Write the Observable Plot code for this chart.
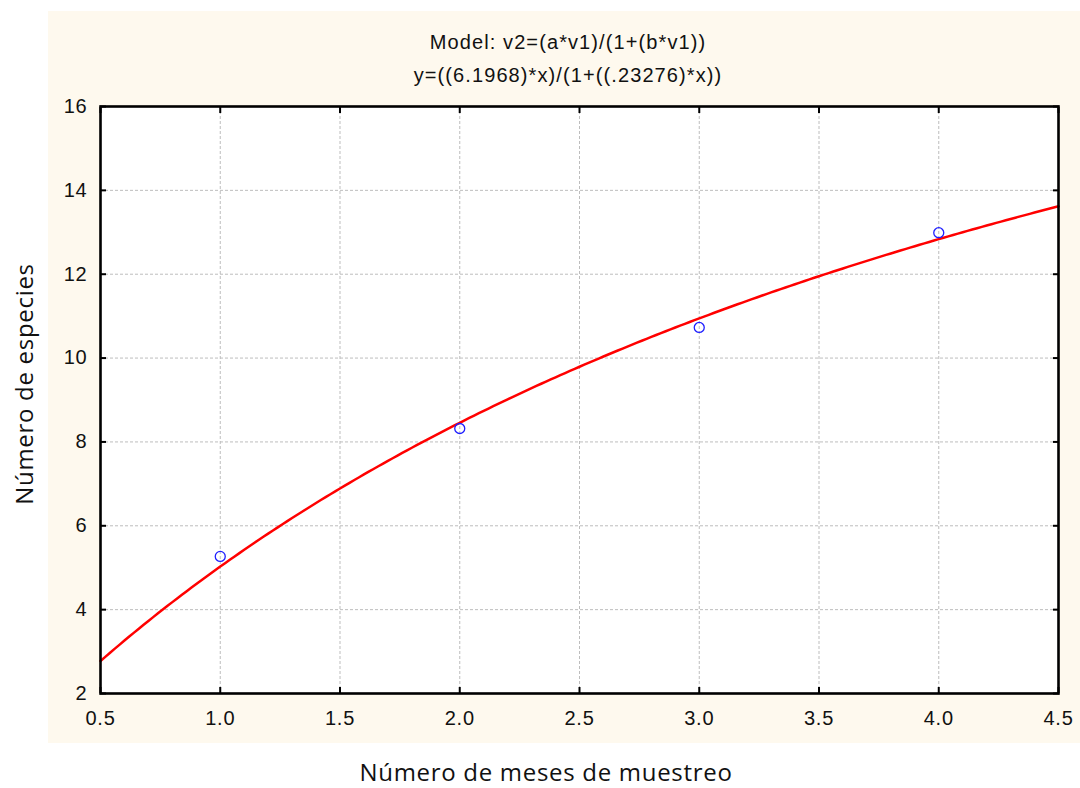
<!DOCTYPE html>
<html>
<head>
<meta charset="utf-8">
<script src="https://cdn.jsdelivr.net/npm/d3@7"></script>
<script src="https://cdn.jsdelivr.net/npm/@observablehq/plot@0.6"></script>
<style>
  body { margin: 0; background: #ffffff; }
  #wrap { position: relative; width: 1080px; height: 788px; overflow: hidden; font-family: "Liberation Sans", Arial, sans-serif; }
  #panel { position: absolute; left: 48px; top: 11px; width: 1032px; height: 732px; background: #fef9ee; }
  #chart { position: absolute; left: 0; top: 0; }
  .title { position: absolute; left: 568px; transform: translateX(-50%); white-space: nowrap;
           font-size: 20px; line-height: 20px; letter-spacing: 1.1px; color: #111; }
  .axlab { position: absolute; white-space: nowrap; font-family: "Open Sans", sans-serif; font-size: 24px; line-height: 24px; letter-spacing: 0.7px; color: #111; }
</style>
</head>
<body>
<div id="wrap">
  <div id="panel"></div>
  <div id="chart"></div>
  <div class="title" id="t1" style="top:32px"></div>
  <div class="title" id="t2" style="top:65px"></div>
  <div class="axlab" id="xl" style="left:546px; top:760px; transform:translateX(-50%);"></div>
  <div class="axlab" id="yl" style="left:24px; top:384px; transform:translate(-50%,-50%) rotate(-90deg);"></div>
</div>
<script>
// ---- data ----
const titleLine1 = "Model: v2=(a*v1)/(1+(b*v1))";
const titleLine2 = "y=((6.1968)*x)/(1+((.23276)*x))";
const xLabel = "Número de meses de muestreo";
const yLabel = "Número de especies";
const xTicks = [0.5, 1.0, 1.5, 2.0, 2.5, 3.0, 3.5, 4.0, 4.5];
const yTicks = [2, 4, 6, 8, 10, 12, 14, 16];
const months = [1, 2, 3, 4];
const species = [5.27, 8.32, 10.73, 12.99];
const modelA = 6.1968;
const modelB = 0.23276;

document.getElementById("t1").textContent = titleLine1;
document.getElementById("t2").textContent = titleLine2;
document.getElementById("xl").textContent = xLabel;
document.getElementById("yl").textContent = yLabel;

const points = months.map((m, i) => ({x: m, y: species[i]}));
// fitted model curve, as stated in the chart title
const curveX = d3.range(0, 201).map(i => xTicks[0] + i * (xTicks[xTicks.length - 1] - xTicks[0]) / 200);
const curve = curveX.map(x => ({x, y: (modelA * x) / (1 + modelB * x)}));

const gridStyle = {stroke: "#bdbdbd", strokeOpacity: 1, strokeDasharray: "3,2", strokeWidth: 1};
const axisCommon = {stroke: "#000", strokeWidth: 2, tickSize: -6, label: null};

const plot = Plot.plot({
  width: 1080,
  height: 788,
  marginLeft: 100,
  marginRight: 22,
  marginTop: 106,
  marginBottom: 95,
  x: {domain: [xTicks[0], xTicks[xTicks.length - 1]]},
  y: {domain: [yTicks[0], yTicks[yTicks.length - 1]]},
  style: {background: "transparent", fontFamily: "'Liberation Sans', Arial, sans-serif", fontSize: "20px", color: "#111", letterSpacing: "0.8px"},
  marks: [
    Plot.frame({fill: "white", stroke: null}),
    Plot.gridX(xTicks, gridStyle),
    Plot.gridY(yTicks, gridStyle),
    Plot.line(curve, {x: "x", y: "y", stroke: "#ff0000", strokeWidth: 2.5}),
    Plot.dot(points, {x: "x", y: "y", r: 5, stroke: "#1f1fff", strokeWidth: 1.3, fill: "none"}),
    Plot.frame({stroke: "#000", strokeWidth: 2.6}),
    Plot.axisX(xTicks, {...axisCommon, anchor: "bottom", tickPadding: 23, tickFormat: d3.format(".1f")}),
    Plot.axisX(xTicks, {...axisCommon, anchor: "top", tickFormat: () => ""}),
    Plot.axisY(yTicks, {...axisCommon, anchor: "left", tickPadding: 19, tickFormat: d3.format("d")}),
    Plot.axisY(yTicks, {...axisCommon, anchor: "right", tickFormat: () => ""})
  ]
});
document.getElementById("chart").appendChild(plot);
</script>
</body>
</html>
